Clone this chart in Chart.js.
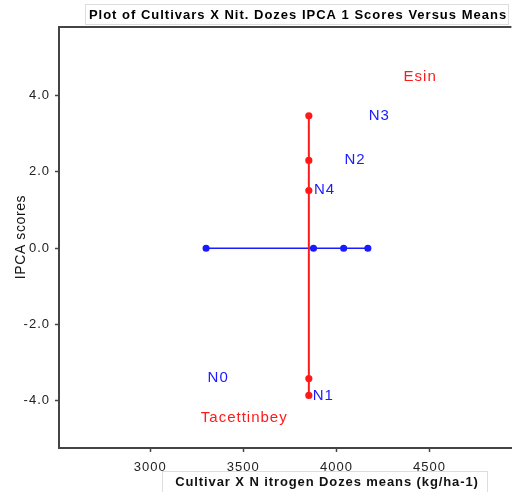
<!DOCTYPE html>
<html>
<head>
<meta charset="utf-8">
<script src="https://cdn.jsdelivr.net/npm/chart.js@4/dist/chart.umd.min.js"></script>
<style>
  html, body { margin: 0; padding: 0; background: #fff; }
  #wrap { width: 516px; height: 492px; position: relative; }
</style>
</head>
<body>
<div id="wrap"><canvas id="ammiChart" width="516" height="492"></canvas></div>
<script>
// cultivar means vs IPCA 1 scores (red = cultivars line, blue = nitrogen doses line)
const redX = [3852, 3852, 3852, 3852, 3852];
const redY = [3.47, 2.30, 1.51, -3.42, -3.86];
const blueX = [3300, 3877, 4039, 4169];
const blueY = [0, 0, 0, 0];

// point labels
const labelNames = ['Esin', 'N3', 'N2', 'N4', 'N0', 'N1', 'Tacettinbey'];
const labelX = [4450, 4230, 4100, 3936, 3365, 3930, 3505];
const labelY = [4.5, 3.47, 2.32, 1.52, -3.4, -3.86, -4.46];
const labelColors = ['#ff1a1a', '#1a1aff', '#1a1aff', '#1a1aff', '#1a1aff', '#1a1aff', '#ff1a1a'];

const xTicks = [3000, 3500, 4000, 4500];
const yTicks = [-4, -2, 0, 2, 4];

const chartTitle = 'Plot of Cultivars X Nit. Dozes IPCA 1 Scores Versus Means';
const xTitle = 'Cultivar X N itrogen Dozes means (kg/ha-1)';
const yTitle = 'IPCA scores';

const toPoints = (xs, ys) => xs.map((x, i) => ({ x: x, y: ys[i] }));
const FONT = '"Liberation Sans", Arial, sans-serif';

// draws the text labels, the boxed titles and the top frame line
const extrasPlugin = {
    id: 'extras',
    beforeDraw(chart) {
        // the original picture is slightly stretched sideways, so space the letters out
        chart.ctx.letterSpacing = '1px';
    },
    afterDatasetsDraw(chart) {
        const ctx = chart.ctx;
        const xs = chart.scales.x;
        const ys = chart.scales.y;
        const area = chart.chartArea;
        ctx.save();

        // top frame line
        ctx.strokeStyle = '#444';
        ctx.lineWidth = 2;
        ctx.beginPath();
        ctx.moveTo(area.left - 1, area.top);
        ctx.lineTo(area.right, area.top);
        ctx.stroke();

        // point labels
        ctx.font = '15px ' + FONT;
        ctx.letterSpacing = '1px';
        ctx.textAlign = 'center';
        ctx.textBaseline = 'middle';
        labelNames.forEach((name, i) => {
            ctx.fillStyle = labelColors[i];
            ctx.fillText(name, xs.getPixelForValue(labelX[i]), ys.getPixelForValue(labelY[i]));
        });

        // title box
        ctx.fillStyle = '#fff';
        ctx.strokeStyle = '#ddd';
        ctx.lineWidth = 1;
        ctx.fillRect(85.5, 4.5, 423, 20);
        ctx.strokeRect(85.5, 4.5, 423, 20);
        ctx.fillStyle = '#000';
        ctx.font = 'bold 13px ' + FONT;
        ctx.letterSpacing = '1px';
        ctx.fillText(chartTitle, 298, 15);

        // x axis title box
        ctx.fillStyle = '#fff';
        ctx.fillRect(162.5, 471.5, 325, 22);
        ctx.strokeRect(162.5, 471.5, 325, 22);
        ctx.fillStyle = '#111';
        ctx.letterSpacing = '0.9px';
        ctx.fillText(xTitle, 327, 482);

        // y axis title
        ctx.translate(21, 237);
        ctx.rotate(-Math.PI / 2);
        ctx.font = '14px ' + FONT;
        ctx.letterSpacing = '0.6px';
        ctx.fillStyle = '#111';
        ctx.fillText(yTitle, 0, 0);
        ctx.restore();
    }
};

const ctx = document.getElementById('ammiChart').getContext('2d');
new Chart(ctx, {
    type: 'scatter',
    data: {
        datasets: [{
            label: 'Cultivars',
            data: toPoints(redX, redY),
            showLine: true,
            borderColor: '#ff1a1a',
            backgroundColor: '#ff1a1a',
            borderWidth: 2,
            pointRadius: 2.6,
            pointHoverRadius: 2.6
        }, {
            label: 'Nitrogen doses',
            data: toPoints(blueX, blueY),
            showLine: true,
            borderColor: '#1a1aff',
            backgroundColor: '#1a1aff',
            borderWidth: 1.5,
            pointRadius: 2.8,
            pointHoverRadius: 2.8
        }]
    },
    options: {
        responsive: false,
        animation: false,
        layout: { padding: { top: 27, right: 1, left: 0, bottom: 0 } },
        plugins: {
            legend: { display: false },
            tooltip: { enabled: false }
        },
        scales: {
            x: {
                type: 'linear',
                min: 2510,
                max: 4940,
                afterBuildTicks: scale => { scale.ticks = xTicks.map(v => ({ value: v })); },
                afterFit: scale => { scale.height = 44; },
                grid: { display: true, drawOnChartArea: false, tickLength: 4, color: '#444', tickWidth: 1.5 },
                border: { display: true, color: '#444', width: 2 },
                ticks: {
                    color: '#222',
                    padding: 8,
                    font: { family: FONT, size: 13 },
                    callback: v => String(v)
                }
            },
            y: {
                type: 'linear',
                min: -5.24,
                max: 5.8,
                afterBuildTicks: scale => { scale.ticks = yTicks.map(v => ({ value: v })); },
                afterFit: scale => { scale.width = 59; },
                grid: { display: true, drawOnChartArea: false, tickLength: 4, color: '#444', tickWidth: 1.5 },
                border: { display: true, color: '#444', width: 2 },
                ticks: {
                    color: '#222',
                    padding: 5,
                    font: { family: FONT, size: 13 },
                    callback: v => v.toFixed(1)
                }
            }
        }
    },
    plugins: [extrasPlugin]
});
</script>
</body>
</html>
